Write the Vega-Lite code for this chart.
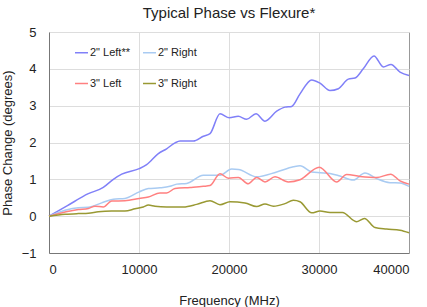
{
  "$schema": "https://vega.github.io/schema/vega-lite/v6.json",
  "width": 360,
  "height": 221,
  "autosize": {"type": "none"},
  "padding": {"left": 49, "top": 32, "right": 18, "bottom": 54},
  "background": "white",
  "title": {"text": "Typical Phase vs Flexure*", "font": "Liberation Sans", "fontSize": 15, "fontWeight": "normal", "color": "#222222", "anchor": "middle", "offset": 5},
  "config": {
    "view": {"stroke": null},
    "font": "Liberation Sans"
  },
  "data": {"values": [
    {"s": "2\" Left**", "f": 0, "v": 0},
    {"s": "2\" Left**", "f": 2000, "v": 0.28},
    {"s": "2\" Left**", "f": 4370, "v": 0.61},
    {"s": "2\" Left**", "f": 6030, "v": 0.78},
    {"s": "2\" Left**", "f": 7150, "v": 1.0},
    {"s": "2\" Left**", "f": 8080, "v": 1.14},
    {"s": "2\" Left**", "f": 10030, "v": 1.29},
    {"s": "2\" Left**", "f": 10850, "v": 1.4},
    {"s": "2\" Left**", "f": 12150, "v": 1.7},
    {"s": "2\" Left**", "f": 13070, "v": 1.83},
    {"s": "2\" Left**", "f": 14000, "v": 1.99},
    {"s": "2\" Left**", "f": 14560, "v": 2.04},
    {"s": "2\" Left**", "f": 16040, "v": 2.04},
    {"s": "2\" Left**", "f": 17150, "v": 2.17},
    {"s": "2\" Left**", "f": 17890, "v": 2.24},
    {"s": "2\" Left**", "f": 19000, "v": 2.78},
    {"s": "2\" Left**", "f": 20040, "v": 2.67},
    {"s": "2\" Left**", "f": 21030, "v": 2.71},
    {"s": "2\" Left**", "f": 21960, "v": 2.63},
    {"s": "2\" Left**", "f": 23000, "v": 2.78},
    {"s": "2\" Left**", "f": 24000, "v": 2.58},
    {"s": "2\" Left**", "f": 25300, "v": 2.85},
    {"s": "2\" Left**", "f": 26220, "v": 2.96},
    {"s": "2\" Left**", "f": 26960, "v": 2.98},
    {"s": "2\" Left**", "f": 27890, "v": 3.32},
    {"s": "2\" Left**", "f": 29190, "v": 3.7},
    {"s": "2\" Left**", "f": 30110, "v": 3.61},
    {"s": "2\" Left**", "f": 31220, "v": 3.41},
    {"s": "2\" Left**", "f": 32150, "v": 3.46},
    {"s": "2\" Left**", "f": 33260, "v": 3.72},
    {"s": "2\" Left**", "f": 34000, "v": 3.75},
    {"s": "2\" Left**", "f": 34920, "v": 4.0},
    {"s": "2\" Left**", "f": 36110, "v": 4.35},
    {"s": "2\" Left**", "f": 37150, "v": 4.05},
    {"s": "2\" Left**", "f": 38000, "v": 4.12},
    {"s": "2\" Left**", "f": 39000, "v": 3.91},
    {"s": "2\" Left**", "f": 40000, "v": 3.82},

    {"s": "2\" Right", "f": 0, "v": 0},
    {"s": "2\" Right", "f": 1780, "v": 0.16},
    {"s": "2\" Right", "f": 3260, "v": 0.23},
    {"s": "2\" Right", "f": 4370, "v": 0.24},
    {"s": "2\" Right", "f": 5850, "v": 0.36},
    {"s": "2\" Right", "f": 7150, "v": 0.46},
    {"s": "2\" Right", "f": 8440, "v": 0.48},
    {"s": "2\" Right", "f": 10030, "v": 0.66},
    {"s": "2\" Right", "f": 11040, "v": 0.75},
    {"s": "2\" Right", "f": 12330, "v": 0.77},
    {"s": "2\" Right", "f": 13440, "v": 0.81},
    {"s": "2\" Right", "f": 14190, "v": 0.87},
    {"s": "2\" Right", "f": 15300, "v": 0.89},
    {"s": "2\" Right", "f": 17150, "v": 1.11},
    {"s": "2\" Right", "f": 19000, "v": 1.11},
    {"s": "2\" Right", "f": 20300, "v": 1.28},
    {"s": "2\" Right", "f": 21040, "v": 1.27},
    {"s": "2\" Right", "f": 23070, "v": 1.07},
    {"s": "2\" Right", "f": 25300, "v": 1.2},
    {"s": "2\" Right", "f": 27150, "v": 1.34},
    {"s": "2\" Right", "f": 27890, "v": 1.37},
    {"s": "2\" Right", "f": 29190, "v": 1.2},
    {"s": "2\" Right", "f": 30110, "v": 1.18},
    {"s": "2\" Right", "f": 31220, "v": 1.16},
    {"s": "2\" Right", "f": 32330, "v": 1.09},
    {"s": "2\" Right", "f": 33810, "v": 0.98},
    {"s": "2\" Right", "f": 35110, "v": 1.17},
    {"s": "2\" Right", "f": 36410, "v": 1.02},
    {"s": "2\" Right", "f": 37890, "v": 0.91},
    {"s": "2\" Right", "f": 39000, "v": 0.9},
    {"s": "2\" Right", "f": 40000, "v": 0.81},

    {"s": "3\" Left", "f": 0, "v": 0},
    {"s": "3\" Left", "f": 3260, "v": 0.18},
    {"s": "3\" Left", "f": 4370, "v": 0.21},
    {"s": "3\" Left", "f": 5110, "v": 0.27},
    {"s": "3\" Left", "f": 6030, "v": 0.25},
    {"s": "3\" Left", "f": 6960, "v": 0.41},
    {"s": "3\" Left", "f": 8440, "v": 0.42},
    {"s": "3\" Left", "f": 10030, "v": 0.48},
    {"s": "3\" Left", "f": 11040, "v": 0.52},
    {"s": "3\" Left", "f": 12330, "v": 0.63},
    {"s": "3\" Left", "f": 13070, "v": 0.63},
    {"s": "3\" Left", "f": 14000, "v": 0.75},
    {"s": "3\" Left", "f": 15670, "v": 0.78},
    {"s": "3\" Left", "f": 17150, "v": 0.81},
    {"s": "3\" Left", "f": 17890, "v": 0.83},
    {"s": "3\" Left", "f": 19000, "v": 1.15},
    {"s": "3\" Left", "f": 19930, "v": 1.03},
    {"s": "3\" Left", "f": 21040, "v": 1.05},
    {"s": "3\" Left", "f": 22140, "v": 0.88},
    {"s": "3\" Left", "f": 23070, "v": 1.05},
    {"s": "3\" Left", "f": 24000, "v": 0.93},
    {"s": "3\" Left", "f": 25110, "v": 1.07},
    {"s": "3\" Left", "f": 26590, "v": 0.93},
    {"s": "3\" Left", "f": 27890, "v": 0.99},
    {"s": "3\" Left", "f": 30030, "v": 1.33},
    {"s": "3\" Left", "f": 31960, "v": 0.93},
    {"s": "3\" Left", "f": 33070, "v": 1.13},
    {"s": "3\" Left", "f": 34560, "v": 1.08},
    {"s": "3\" Left", "f": 36410, "v": 1.05},
    {"s": "3\" Left", "f": 37960, "v": 1.14},
    {"s": "3\" Left", "f": 39000, "v": 0.96},
    {"s": "3\" Left", "f": 40000, "v": 0.87},

    {"s": "3\" Right", "f": 0, "v": 0},
    {"s": "3\" Right", "f": 1780, "v": 0.05},
    {"s": "3\" Right", "f": 3260, "v": 0.07},
    {"s": "3\" Right", "f": 4370, "v": 0.08},
    {"s": "3\" Right", "f": 5480, "v": 0.12},
    {"s": "3\" Right", "f": 6960, "v": 0.14},
    {"s": "3\" Right", "f": 8440, "v": 0.14},
    {"s": "3\" Right", "f": 9560, "v": 0.2},
    {"s": "3\" Right", "f": 10480, "v": 0.25},
    {"s": "3\" Right", "f": 11040, "v": 0.3},
    {"s": "3\" Right", "f": 11780, "v": 0.27},
    {"s": "3\" Right", "f": 13070, "v": 0.25},
    {"s": "3\" Right", "f": 14930, "v": 0.25},
    {"s": "3\" Right", "f": 16410, "v": 0.32},
    {"s": "3\" Right", "f": 17890, "v": 0.42},
    {"s": "3\" Right", "f": 19000, "v": 0.31},
    {"s": "3\" Right", "f": 20110, "v": 0.39},
    {"s": "3\" Right", "f": 21780, "v": 0.36},
    {"s": "3\" Right", "f": 23070, "v": 0.26},
    {"s": "3\" Right", "f": 24000, "v": 0.33},
    {"s": "3\" Right", "f": 24930, "v": 0.27},
    {"s": "3\" Right", "f": 26220, "v": 0.34},
    {"s": "3\" Right", "f": 27150, "v": 0.43},
    {"s": "3\" Right", "f": 27890, "v": 0.39},
    {"s": "3\" Right", "f": 29190, "v": 0.09},
    {"s": "3\" Right", "f": 30110, "v": 0.14},
    {"s": "3\" Right", "f": 31220, "v": 0.1},
    {"s": "3\" Right", "f": 32600, "v": 0.1},
    {"s": "3\" Right", "f": 34150, "v": -0.15},
    {"s": "3\" Right", "f": 35050, "v": -0.06},
    {"s": "3\" Right", "f": 36220, "v": -0.31},
    {"s": "3\" Right", "f": 37500, "v": -0.35},
    {"s": "3\" Right", "f": 39000, "v": -0.38},
    {"s": "3\" Right", "f": 40000, "v": -0.45}
  ]},
  "mark": {"type": "line", "interpolate": "monotone", "strokeWidth": 1.5},
  "encoding": {
    "x": {
      "field": "f", "type": "quantitative",
      "scale": {"domain": [0, 40000], "nice": false},
      "axis": {
        "title": "Frequency (MHz)", "values": [0, 10000, 20000, 30000, 40000], "format": "d",
        "grid": true,
        "gridColor": {"condition": {"test": "datum.value === 40000", "value": "#999999"}, "value": "#dddddd"},
        "domainColor": "#777777", "ticks": false,
        "labelFontSize": 13, "labelColor": "#222222", "labelPadding": 10,
        "titleFontSize": 13, "titleFontWeight": "normal", "titleColor": "#222222", "titlePadding": 18
      }
    },
    "y": {
      "field": "v", "type": "quantitative",
      "scale": {"domain": [-1, 5], "nice": false},
      "axis": {
        "title": "Phase Change (degrees)", "values": [-1, 0, 1, 2, 3, 4, 5],
        "grid": true, "gridColor": "#dddddd",
        "domainColor": "#777777", "ticks": false,
        "labelFontSize": 13, "labelColor": "#222222", "labelPadding": 13,
        "titleFontSize": 13, "titleFontWeight": "normal", "titleColor": "#222222", "titlePadding": 7
      }
    },
    "color": {
      "field": "s", "type": "nominal",
      "scale": {
        "domain": ["2\" Left**", "2\" Right", "3\" Left", "3\" Right"],
        "range": ["#8080f8", "#a9cbf2", "#ff8080", "#999933"]
      },
      "legend": {
        "title": null, "orient": "none", "legendX": 25, "legendY": 13,
        "columns": 2, "direction": "horizontal",
        "symbolType": "stroke", "symbolSize": 169, "symbolStrokeWidth": 1.5,
        "labelFontSize": 11, "labelColor": "#222222", "labelOffset": 1,
        "rowPadding": 18, "columnPadding": 10
      }
    }
  }
}
